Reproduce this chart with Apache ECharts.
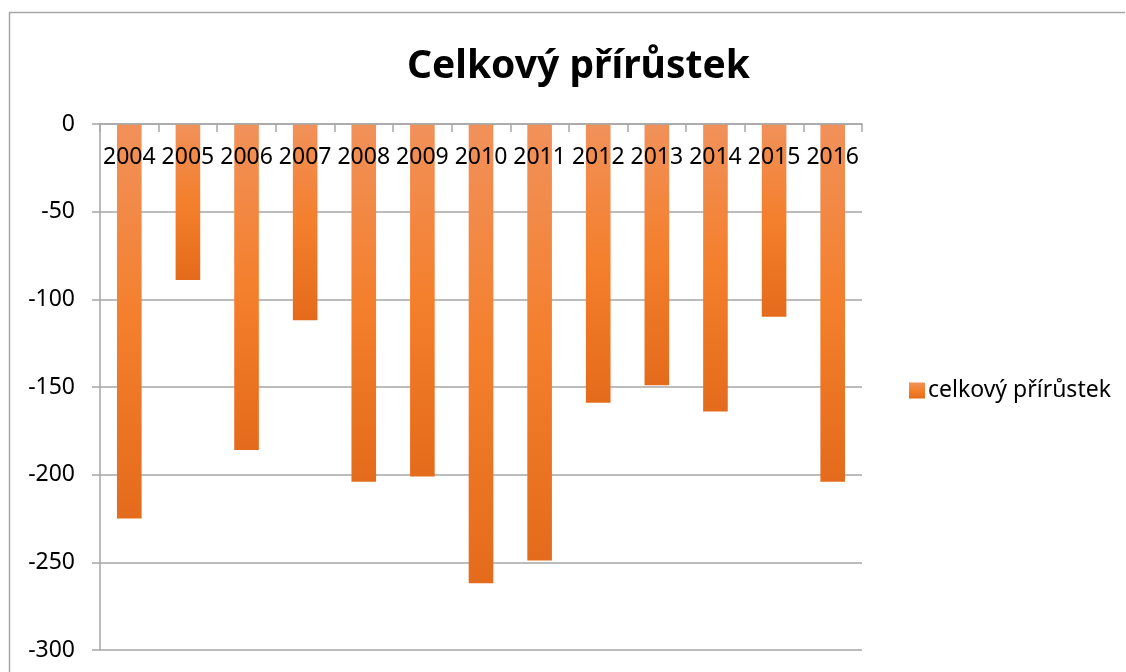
<!DOCTYPE html>
<html>
<head>
<meta charset="utf-8">
<script src="https://cdn.jsdelivr.net/npm/echarts@6/dist/echarts.min.js"></script>
<style>
  html, body { margin: 0; padding: 0; background: #fff; }
  #main { width: 1126px; height: 672px; }
</style>
</head>
<body>
<div id="main"></div>
<script>
// data
var years = ['2004', '2005', '2006', '2007', '2008', '2009', '2010', '2011', '2012', '2013', '2014', '2015', '2016'];
var prirustek = [-225, -89, -186, -112, -204, -201, -262, -249, -159, -149, -164, -110, -204];
var yTicks = [0, -50, -100, -150, -200, -250, -300];

var font = '"Noto Sans", "Open Sans", sans-serif';
var gray = '#a6a6a6';

var barFill = new echarts.graphic.LinearGradient(0, 0, 0, 1, [
  { offset: 0, color: '#f1915a' },
  { offset: 0.5, color: '#f47f2c' },
  { offset: 1, color: '#e46b1b' }
]);

var myChart = echarts.init(document.getElementById('main'));

var option = {
  backgroundColor: '#fff',
  animation: false,
  title: {
    text: 'Celkový přírůstek',
    left: 402,
    top: 42,
    textStyle: { fontFamily: font, fontSize: 39, fontWeight: 'bold', color: '#000' }
  },
  legend: {
    data: ['celkový přírůstek'],
    left: 904,
    top: 374,
    icon: 'rect',
    itemWidth: 16,
    itemHeight: 16,
    itemGap: 4,
    textStyle: { fontFamily: font, fontSize: 23, color: '#000', padding: [0, 0, 0, -2] }
  },
  grid: { left: 100, right: 264, top: 124, bottom: 22, outerBoundsMode: 'none', containLabel: false },
  xAxis: {
    type: 'category',
    position: 'top',
    z: 10,
    data: years,
    axisLine: { lineStyle: { color: gray, width: 1.5 } },
    axisTick: { show: true, inside: true, length: 8, lineStyle: { color: gray, width: 1.5 } },
    axisLabel: { interval: 0, inside: true, margin: 22, fontFamily: font, fontSize: 23, color: '#000' }
  },
  yAxis: {
    type: 'value',
    min: yTicks[yTicks.length - 1],
    max: yTicks[0],
    interval: 50,
    axisLine: { show: true, lineStyle: { color: gray, width: 1.5 } },
    axisTick: { show: true, length: 8, lineStyle: { color: gray, width: 1.5 } },
    splitLine: { lineStyle: { color: gray, width: 1.5 } },
    axisLabel: { margin: 25, fontFamily: font, fontSize: 23, color: '#000' }
  },
  graphic: [
    {
      type: 'polyline',
      shape: { points: [[9.5, 700], [9.5, 12.5], [1125, 12.5]] },
      style: { stroke: gray, lineWidth: 1.5, fill: null },
      silent: true
    }
  ],
  series: [
    {
      name: 'celkový přírůstek',
      type: 'bar',
      data: prirustek,
      barWidth: '42%',
      itemStyle: { color: barFill }
    }
  ]
};

myChart.setOption(option);
</script>
</body>
</html>
